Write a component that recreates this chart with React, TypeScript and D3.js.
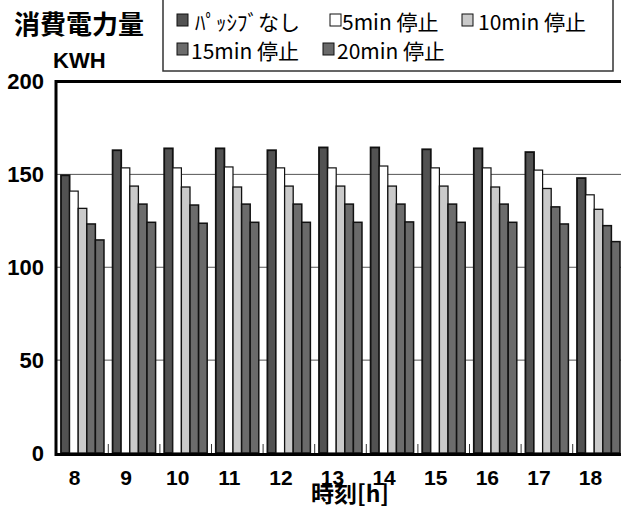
import React from "react";
import * as d3 from "d3";

const hours = ["8", "9", "10", "11", "12", "13", "14", "15", "16", "17", "18"];
const seriesNames = ["ﾊﾟｯｼﾌﾞなし", "5min 停止", "10min 停止", "15min 停止", "20min 停止"];
const passiveNone = [149.5, 163, 164, 164, 163, 164.5, 164.5, 163.5, 164, 162, 148];
const stop5 = [141, 153.5, 153.5, 154, 153.5, 153.5, 154.5, 153.5, 153.5, 152.3, 139];
const stop10 = [131.7, 143.7, 143.2, 143.2, 143.7, 143.7, 143.7, 143.7, 143.2, 142.4, 131.2];
const stop15 = [123.3, 134, 133.5, 134, 134, 134, 134, 134, 134, 132.5, 122.4];
const stop20 = [114.7, 124.2, 123.7, 124.2, 124.2, 124.2, 124.4, 124.2, 124.2, 123.3, 113.8];
const yTicks = [0, 50, 100, 150, 200];

const seriesData = [passiveNone, stop5, stop10, stop15, stop20];
const fills = ["#525252", "#ffffff", "#cacaca", "#6c6c6c", "#6a6a6a"];
const strokeW = [1.8, 1.2, 1.3, 1.5, 1.5];

const W = 621;
const H = 508;
const JP = "'Noto Sans CJK JP', sans-serif";
const LAT = "'Liberation Sans', Arial, sans-serif";

export default function App() {
  const y = d3.scaleLinear().domain([0, 200]).range([453, 81.5]);
  const x = d3
    .scaleBand<string>()
    .domain(hours)
    .range([57, 624])
    .paddingInner(0.167)
    .paddingOuter(0.0775);
  const xs = d3
    .scaleBand<string>()
    .domain(seriesNames)
    .range([0, x.bandwidth()]);
  const gapHalf = (x.step() * x.paddingInner()) / 2;

  const legendItems = [
    { i: 0, sx: 177, tx: 195, row: 0 },
    { i: 1, sx: 330, tx: 342, row: 0 },
    { i: 2, sx: 462, tx: 478, row: 0 },
    { i: 3, sx: 177, tx: 191, row: 1 },
    { i: 4, sx: 323, tx: 337, row: 1 },
  ];
  const rowBase = [30, 59];

  return (
    <svg
      width={W}
      height={H}
      style={{ position: "absolute", left: 0, top: 0, background: "#fff" }}
    >
      <rect x={0} y={0} width={W} height={H} fill="#fff" />
      {/* gridlines */}
      {yTicks
        .filter((t) => t > 0 && t < 200)
        .map((t) => (
          <line
            key={"g" + t}
            x1={57}
            x2={W}
            y1={y(t)}
            y2={y(t)}
            stroke="#555"
            strokeWidth={1}
          />
        ))}
      {/* small ticks at baseline between groups */}
      {hours.slice(1).map((h) => (
        <line
          key={"t" + h}
          x1={(x(h) as number) - gapHalf}
          x2={(x(h) as number) - gapHalf}
          y1={y(0)}
          y2={y(0) - 9}
          stroke="#333"
          strokeWidth={1}
        />
      ))}
      {/* bars */}
      {seriesData.map((vals, si) =>
        vals.map((v, hi) => (
          <rect
            key={si + "-" + hi}
            x={(x(hours[hi]) as number) + (xs(seriesNames[si]) as number)}
            y={y(v)}
            width={xs.bandwidth()}
            height={y(0) - y(v)}
            fill={fills[si]}
            stroke="#111"
            strokeWidth={strokeW[si]}
          />
        ))
      )}
      {/* axes */}
      <line x1={56} x2={W} y1={y(200)} y2={y(200)} stroke="#000" strokeWidth={3} />
      <line x1={56} x2={56} y1={y(200) - 1.5} y2={y(0) + 3} stroke="#000" strokeWidth={3} />
      <line x1={56} x2={W} y1={y(0) + 1.5} y2={y(0) + 1.5} stroke="#000" strokeWidth={3} />
      {/* y tick labels */}
      {yTicks.map((t) => (
        <text
          key={"yl" + t}
          x={44}
          y={y(t)}
          dy="0.36em"
          textAnchor="end"
          fontFamily={LAT}
          fontWeight="bold"
          fontSize={22}
          fill="#000"
        >
          {t}
        </text>
      ))}
      {/* x tick labels */}
      {hours.map((h) => (
        <text
          key={"xl" + h}
          x={(x(h) as number) + x.bandwidth() / 2 - 8}
          y={y(0) + 24}
          dy="0.36em"
          textAnchor="middle"
          fontFamily={LAT}
          fontWeight="bold"
          fontSize={21}
          fill="#000"
        >
          {h}
        </text>
      ))}
      <text
        x={350}
        y={502}
        textAnchor="middle"
        fontFamily={JP}
        fontWeight="bold"
        fontSize={23}
        fill="#000"
      >
        時刻[h]
      </text>
      {/* title */}
      <text x={14} y={34} fontFamily={JP} fontWeight="bold" fontSize={26} fill="#000">
        消費電力量
      </text>
      <text x={53} y={68} fontFamily={LAT} fontWeight="bold" fontSize={22} fill="#000">
        KWH
      </text>
      {/* legend */}
      <rect x={163} y={-4} width={450} height={75} fill="#fff" stroke="#333" strokeWidth={1.5} />
      {legendItems.map((it) => (
        <g key={"lg" + it.i}>
          <rect
            x={it.sx}
            y={rowBase[it.row] - 16}
            width={11}
            height={12}
            fill={fills[it.i]}
            stroke="#111"
            strokeWidth={1}
          />
          <text
            x={it.tx}
            y={rowBase[it.row]}
            fontFamily={JP}
            fontSize={21}
            fill="#000"
          >
            {seriesNames[it.i]}
          </text>
        </g>
      ))}
    </svg>
  );
}
